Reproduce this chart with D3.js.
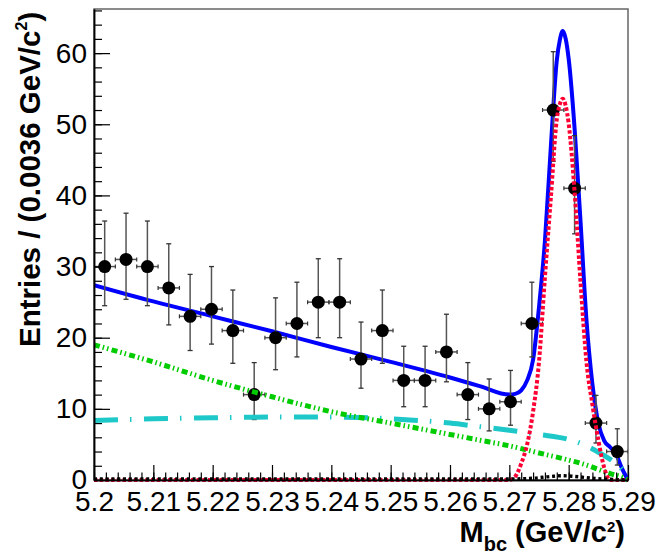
<!DOCTYPE html>
<html>
<head>
<meta charset="utf-8">
<script src="https://cdn.jsdelivr.net/npm/d3@7"></script>
<style>
body{margin:0;background:#fff;}
text{font-family:"Liberation Sans",Arial,Helvetica,sans-serif;}
</style>
</head>
<body>
<div id="chart"></div>
<script>
// data points (bin centres, width 0.0036)
const binCenters=[5.2018,5.2054,5.2090,5.2126,5.2162,5.2198,5.2234,5.2270,5.2306,5.2342,5.2378,5.2414,5.2450,
  5.2486,5.2522,5.2558,5.2594,5.2630,5.2666,5.2702,5.2738,5.2774,5.2810,5.2846,5.2882];
const counts=[30,31,30,27,23,24,21,12,20,22,25,25,17,21,14,14,18,12,10,11,22,52,41,8,4];
const errLow=[5.5,5.6,5.5,5.2,4.8,4.9,4.6,3.5,4.5,4.7,5.0,5.0,4.1,4.6,3.7,3.7,4.2,3.5,3.1,3.3,4.7,7.2,6.4,2.8,1.9];
const errHigh=[6.4,6.5,6.4,6.2,5.9,6.0,5.7,4.5,5.6,5.8,6.1,6.1,5.2,5.7,4.8,4.8,5.3,4.5,4.2,4.4,5.8,8.2,7.4,3.9,3.2];
const binHalf=0.0018;

// fit curves
const totalM=[5.200,5.210,5.220,5.230,5.240,5.250,5.260,5.265,5.270,5.271,5.272,5.273,5.274,5.275,5.276,5.277,5.278,
  5.2785,5.279,5.2795,5.280,5.281,5.282,5.283,5.284,5.285,5.286,5.287,5.288,5.289,5.290];
const totalY=[27.4,25.1,23.0,20.9,18.7,16.6,14.4,13.2,12.0,12.1,12.6,14.0,16.9,24.3,33.6,46.9,59.0,
  61.8,63.1,62.0,59.2,49.4,36.3,22.5,13.5,8.0,5.5,4.6,3.6,1.6,0];

const signalM=[5.200,5.230,5.260,5.270,5.271,5.272,5.273,5.274,5.275,5.276,5.277,5.278,5.2785,5.279,5.2795,
  5.280,5.281,5.282,5.283,5.284,5.285,5.286,5.287,5.290];
const signalY=[0,0,0,0,0.5,2.3,5.0,9.6,16.6,28.5,39.7,50.7,52.8,53.6,52.6,50.1,40.5,27.8,16.6,10.6,5.6,1.7,0,0];

const bbM=[5.200,5.210,5.220,5.230,5.240,5.250,5.260,5.265,5.270,5.275,5.280,5.283,5.285,5.287,5.289,5.290];
const bbY=[19.0,16.6,14.0,11.7,9.6,8.0,6.4,5.6,4.8,3.8,2.8,2.1,1.5,0.9,0.4,0];

const qqM=[5.200,5.210,5.220,5.230,5.240,5.250,5.260,5.265,5.270,5.275,5.280,5.283,5.285,5.287,5.288,5.289,5.2895,5.290];
const qqY=[8.35,8.6,8.75,8.85,8.85,8.6,8.0,7.5,7.0,6.4,5.7,4.8,3.9,2.9,2.3,1.5,1.0,0];

const peakM=[5.200,5.260,5.270,5.274,5.277,5.279,5.281,5.284,5.287,5.290];
const peakY=[0.15,0.15,0.15,0.25,0.5,0.6,0.5,0.25,0.1,0];

// axes
const xTickValues=[5.20,5.21,5.22,5.23,5.24,5.25,5.26,5.27,5.28,5.29];
const xTickLabels=["5.2","5.21","5.22","5.23","5.24","5.25","5.26","5.27","5.28","5.29"];
const yTickValues=[0,10,20,30,40,50,60];

const margin={top:9,right:28,bottom:76,left:94};
const width=656-margin.left-margin.right;
const height=556-margin.top-margin.bottom;

const xscale=d3.scaleLinear().domain([5.2,5.29]).range([0,width]);
const yscale=d3.scaleLinear().domain([0,66.2]).range([height,0]);

const svg=d3.select('#chart')
.append('svg')
.attr('width',656)
.attr('height',556)
.append('g')
.attr('transform',`translate(${margin.left},${margin.top})`);

// clip lets the zero-level dotted lines sit on the axis
svg.append('defs').append('clipPath').attr('id','clip')
.append('rect').attr('x',0).attr('y',0).attr('width',width).attr('height',height+3);

// frame
svg.append('rect')
.attr('width',width).attr('height',height)
.attr('fill','none').attr('stroke','#666').attr('stroke-width',1.5);

const plot=svg.append('g').attr('clip-path','url(#clip)');

function curve(ms,ys){
  return d3.line()
  .x(function(d,i){return xscale(ms[i]);})
  .y(function(d,i){return yscale(ys[i]);})
  .curve(d3.curveMonotoneX)(ys);
}

// total fit
plot.append('path')
.attr('d',curve(totalM,totalY))
.attr('fill','none').attr('stroke','#0000ff').attr('stroke-width',4);

// error bars
const pts=plot.selectAll('.pt')
.data(counts)
.enter()
.append('g')
.attr('class','pt');

pts.append('line')
.attr('x1',function(d,i){return xscale(binCenters[i]);})
.attr('x2',function(d,i){return xscale(binCenters[i]);})
.attr('y1',function(d,i){return yscale(d-errLow[i]);})
.attr('y2',function(d,i){return yscale(d+errHigh[i]);})
.attr('stroke','#555').attr('stroke-width',1.5);

[errLow,errHigh].forEach(function(arr,k){
  pts.append('line')
  .attr('x1',function(d,i){return xscale(binCenters[i])-2.5;})
  .attr('x2',function(d,i){return xscale(binCenters[i])+2.5;})
  .attr('y1',function(d,i){return yscale(k?d+arr[i]:d-arr[i]);})
  .attr('y2',function(d,i){return yscale(k?d+arr[i]:d-arr[i]);})
  .attr('stroke','#333').attr('stroke-width',1.3);
});

pts.append('line')
.attr('x1',function(d,i){return xscale(binCenters[i]-binHalf);})
.attr('x2',function(d,i){return xscale(binCenters[i]+binHalf);})
.attr('y1',function(d){return yscale(d);})
.attr('y2',function(d){return yscale(d);})
.attr('stroke','#555').attr('stroke-width',1.5);

[-1,1].forEach(function(s){
  pts.append('line')
  .attr('x1',function(d,i){return xscale(binCenters[i]+s*binHalf);})
  .attr('x2',function(d,i){return xscale(binCenters[i]+s*binHalf);})
  .attr('y1',function(d){return yscale(d)-2;})
  .attr('y2',function(d){return yscale(d)+2;})
  .attr('stroke','#333').attr('stroke-width',1.2);
});

pts.append('circle')
.attr('cx',function(d,i){return xscale(binCenters[i]);})
.attr('cy',function(d){return yscale(d);})
.attr('r',6.5)
.attr('fill','#000');

// components
plot.append('path')
.attr('d',curve(qqM,qqY))
.attr('fill','none').attr('stroke','#1ec8c8').attr('stroke-width',5)
.attr('stroke-dasharray','24,12,1.5,12.5');

plot.append('path')
.attr('d',curve(bbM,bbY))
.attr('fill','none').attr('stroke','#00cc00').attr('stroke-width',5)
.attr('stroke-dasharray','6,3,1.5,3,1.5,3.3');

plot.append('path')
.attr('d',curve(signalM,signalY))
.attr('fill','none').attr('stroke','#ff0033').attr('stroke-width',4)
.attr('stroke-dasharray','3.5,2.2');

plot.append('path')
.attr('d',curve(peakM,peakY))
.attr('fill','none').attr('stroke','#000').attr('stroke-width',3.4)
.attr('stroke-dasharray','3,2.8');

// axis
const xaxis=svg.append('g')
.attr('transform',`translate(0,${height})`)
.call(d3.axisBottom(xscale).tickValues(xTickValues).tickSize(-15).tickSizeOuter(0).tickPadding(11)
  .tickFormat(function(d,i){return xTickLabels[i];}));
svg.append('g')
.attr('transform',`translate(0,${height})`)
.call(d3.axisBottom(xscale).tickValues(d3.range(5.2,5.2901,0.002)).tickSize(-7.5).tickSizeOuter(0).tickFormat(''));

const yaxis=svg.append('g')
.call(d3.axisLeft(yscale).tickValues(yTickValues).tickSize(-16).tickSizeOuter(0).tickPadding(7));
svg.append('g')
.call(d3.axisLeft(yscale).tickValues(d3.range(0,66.2,2)).tickSize(-8).tickSizeOuter(0).tickFormat(''));

svg.selectAll('.domain').attr('stroke','#000').attr('stroke-width',1.5);
svg.selectAll('.tick line').attr('stroke','#000').attr('stroke-width',1.2);
svg.selectAll('.tick text')
.attr('font-size',28)
.attr('fill','#000')
.attr('font-family','"Liberation Sans",Arial,Helvetica,sans-serif');

// titles
const xt=svg.append('text')
.attr('x',531).attr('y',533)
.attr('text-anchor','end')
.attr('font-weight','bold').attr('font-size',29);
xt.append('tspan').text('M');
xt.append('tspan').attr('font-size',20).attr('dy',9).text('bc');
xt.append('tspan').attr('dy',-9).text(' (GeV/c');
xt.append('tspan').attr('font-size',15).attr('dy',-10).text('2');
xt.append('tspan').attr('dy',10).text(')');

const yt=svg.append('text')
.attr('transform','translate(-54,338) rotate(-90)')
.attr('text-anchor','start')
.attr('font-weight','bold').attr('font-size',29.5);
yt.append('tspan').text('Entries / (0.0036 GeV/c');
yt.append('tspan').attr('font-size',16).attr('dy',-13).text('2');
yt.append('tspan').attr('dy',13).text(')');
</script>
</body>
</html>
